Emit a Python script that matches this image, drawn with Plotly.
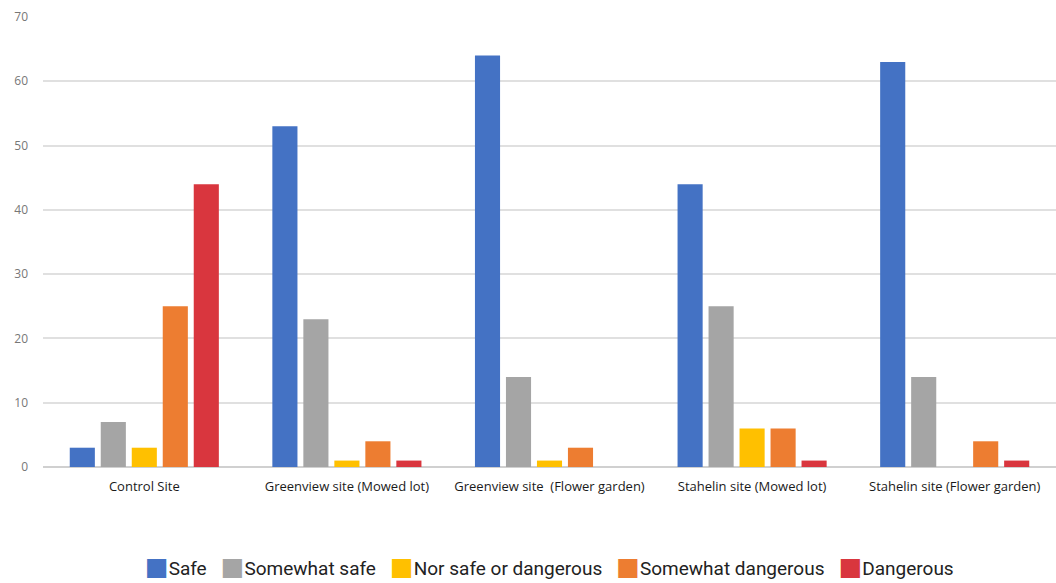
import plotly.graph_objects as go

sites = [
    "Control Site",
    "Greenview site (Mowed lot)",
    "Greenview site  (Flower garden)",
    "Stahelin site (Mowed lot)",
    "Stahelin site (Flower garden)",
]

safe = [3, 53, 64, 44, 63]
somewhat_safe = [7, 23, 14, 25, 14]
neutral = [3, 1, 1, 6, 0]
somewhat_dangerous = [25, 4, 3, 6, 4]
dangerous = [44, 1, 0, 1, 1]

series = [
    ("Safe", safe, "#4472C4"),
    ("Somewhat safe", somewhat_safe, "#A5A5A5"),
    ("Nor safe or dangerous", neutral, "#FFC000"),
    ("Somewhat dangerous", somewhat_dangerous, "#ED7D31"),
    ("Dangerous", dangerous, "#D9363E"),
]

fig = go.Figure()
for name, vals, color in series:
    fig.add_trace(go.Bar(name=name, x=sites, y=vals, marker_color=color,
                         marker_line_width=0, showlegend=False))

# Compact legend row: coloured square glyph followed directly by the label
legend_parts = []
for name, _, color in series:
    legend_parts.append(
        f"<span style='color:{color};font-size:25px;font-family:DejaVu Sans'>■</span>{name}"
    )
legend_text = "&nbsp;&nbsp;&nbsp;".join(legend_parts)

fig.add_annotation(
    text=legend_text,
    xref="paper", yref="paper",
    x=0.5, y=-0.222,
    xanchor="center", yanchor="middle",
    showarrow=False,
    font=dict(family="Roboto, sans-serif", size=19, color="#222222"),
)

fig.update_layout(
    width=1056,
    height=583,
    barmode="group",
    bargap=0.235,
    bargroupgap=0.19,
    plot_bgcolor="white",
    paper_bgcolor="white",
    margin=dict(l=43, r=0, t=17, b=116),
    font=dict(family="Open Sans, Roboto, sans-serif", color="#404040"),
    showlegend=False,
    xaxis=dict(
        showgrid=False,
        showline=False,
        tickfont=dict(family="Open Sans, sans-serif", size=13, color="#1a1a1a"),
        ticklabelstandoff=10,
    ),
    yaxis=dict(
        range=[0, 70],
        dtick=10,
        showgrid=True,
        gridcolor="#E0E0E0",
        gridwidth=1.5,
        zeroline=True,
        zerolinecolor="#D0D0D0",
        zerolinewidth=1.5,
        showline=False,
        tickfont=dict(family="Open Sans, sans-serif", size=12, color="#777777"),
        ticklabelstandoff=14,
    ),
)

fig.write_html("out.html")
